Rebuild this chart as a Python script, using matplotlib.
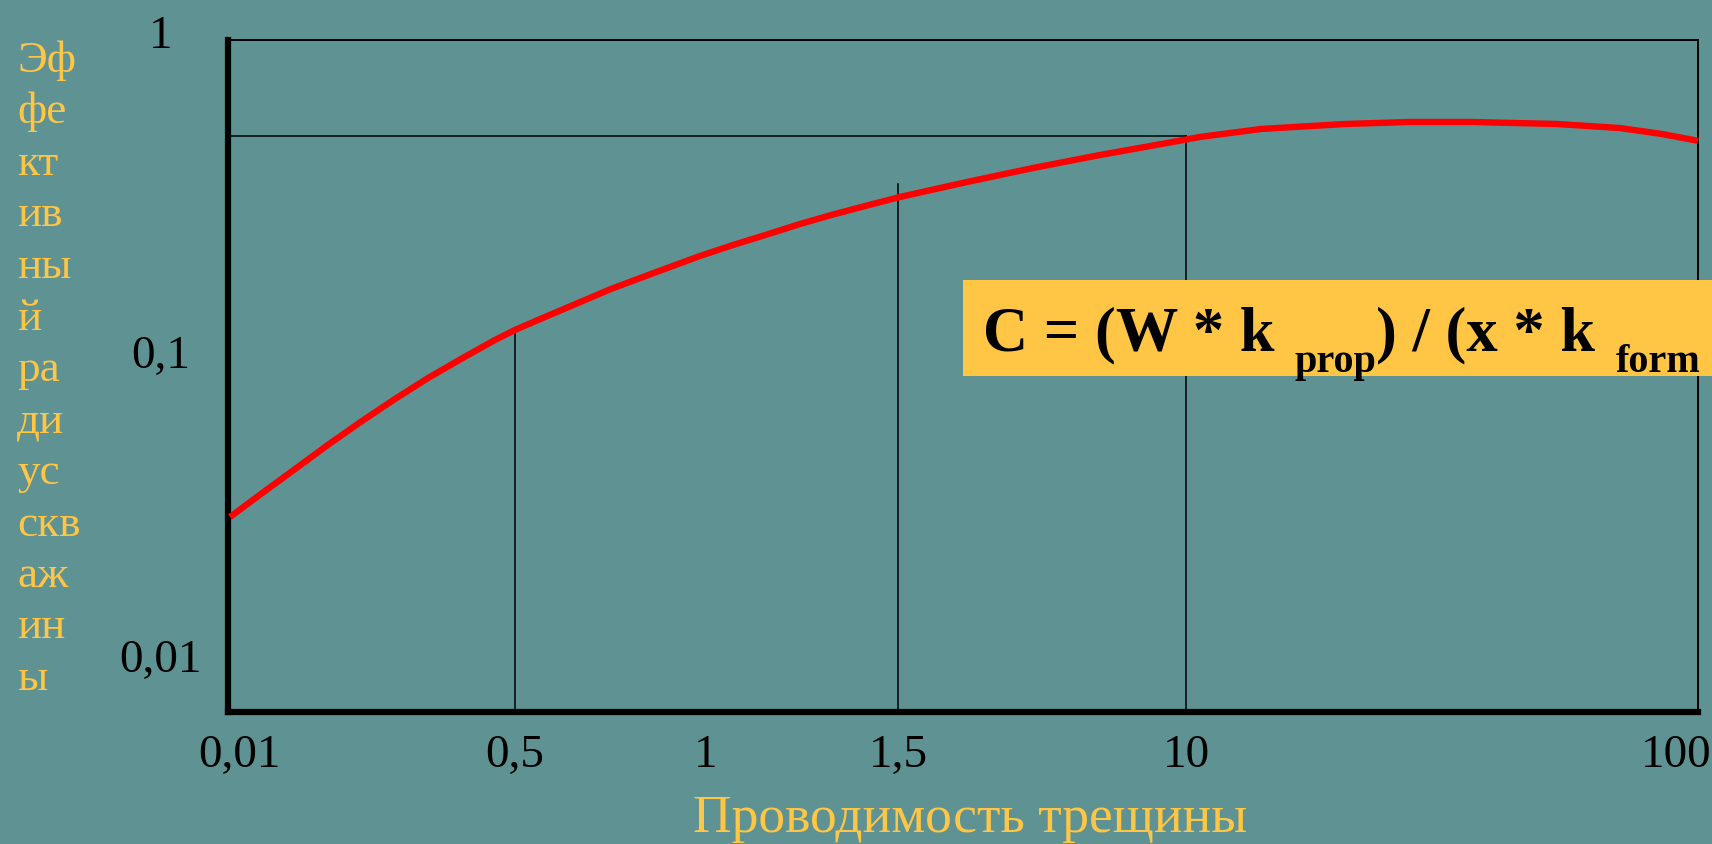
import matplotlib
matplotlib.use("Agg")
import matplotlib.pyplot as plt
import matplotlib.transforms as mtransforms

# ---- data (positions along the chart's non-standard axes, as fractions of the plot box) ----
curve_x = [0.0014, 0.0224, 0.0456, 0.0680, 0.0905, 0.1136, 0.1361, 0.1585, 0.1816, 0.1952,
           0.2156, 0.2381, 0.2605, 0.2905, 0.3211, 0.3435, 0.3667, 0.3891, 0.4116, 0.4347,
           0.4571, 0.5027, 0.5476, 0.5932, 0.6388, 0.6612, 0.7027, 0.7599, 0.8034, 0.8463,
           0.9041, 0.9469, 0.9755, 1.0000]
curve_y = [0.2902, 0.3244, 0.3615, 0.3975, 0.4320, 0.4658, 0.4970, 0.5253, 0.5536, 0.5685,
           0.5878, 0.6086, 0.6295, 0.6540, 0.6786, 0.6949, 0.7106, 0.7262, 0.7403, 0.7537,
           0.7664, 0.7887, 0.8095, 0.8289, 0.8467, 0.8557, 0.8676, 0.8750, 0.8780, 0.8780,
           0.8750, 0.8690, 0.8601, 0.8500]

x_tick_labels = ["0,01", "0,5", "1", "1,5", "10", "100"]
x_tick_pos = [0.0075, 0.195, 0.325, 0.456, 0.652, 0.985]

guide_x = [0.195, 0.456, 0.652]          # vertical guides at 0,5 / 1,5 / 10
guide_top = [0.571, 0.786, 0.857]
hline_y = 0.857

y_tick_labels = ["1", "0,1", "0,01"]
y_tick_pos = [0.990, 0.514, 0.061]        # baselines

y_label_lines = ["Эф", "фе", "кт", "ив", "ны", "й", "ра", "ди", "ус", "скв", "аж", "ин", "ы"]
x_label = "Проводимость трещины"

BG = "#5F9393"
GOLD = "#FFC646"
SERIF = ["Liberation Serif", "DejaVu Serif"]

W, H = 1712, 845
fig = plt.figure(figsize=(W / 100, H / 100), dpi=100, facecolor=BG)

# axes box in pixel coordinates of the reference
L, R, T, B = 228, 1698, 41, 713
ax = fig.add_axes([L / W, (H - B) / H, (R - L) / W, (B - T) / H])
ax.set_facecolor(BG)
ax.set_xlim(0, 1)
ax.set_ylim(0, 1)

for side in ["left", "bottom"]:
    ax.spines[side].set_linewidth(4.5)
    ax.spines[side].set_color("black")
for side in ["top", "right"]:
    ax.spines[side].set_linewidth(1.4)
    ax.spines[side].set_color("black")

ax.set_xticks([])
ax.set_yticks([])

# x tick labels (baseline at 767 px)
xt_trans = mtransforms.blended_transform_factory(ax.transData, fig.transFigure)
for lab, u in zip(x_tick_labels, x_tick_pos):
    ax.text(u, 1 - 767 / H, lab, transform=xt_trans, ha="center", va="baseline",
            family=SERIF, fontsize=34, color="black", clip_on=False)

# y tick labels
for lab, v in zip(y_tick_labels, y_tick_pos):
    ax.text(-0.046, v, lab, transform=ax.transAxes, ha="center", va="baseline",
            family=SERIF, fontsize=34, color="black", clip_on=False)

# guide lines
ax.plot([0, guide_x[-1]], [hline_y, hline_y], color="black", lw=1.1, zorder=2)
for gx, gt in zip(guide_x, guide_top):
    ax.plot([gx, gx], [0, gt], color="black", lw=1.1, zorder=2)

ax.plot(curve_x, curve_y, color="#FF0000", lw=4.6, zorder=3, clip_on=False,
        solid_capstyle="butt", solid_joinstyle="round")

# y label (stacked syllables)
for i, s in enumerate(y_label_lines):
    yb = 72 + i * 51.5
    fig.text(17 / W, 1 - yb / H, s, ha="left", va="baseline", family=SERIF,
             fontsize=32.5, color=GOLD)

# x label
fig.text(970 / W, 1 - 832 / H, x_label, ha="center", va="baseline", family=SERIF,
         fontsize=38.5, color=GOLD)

# formula box
box = plt.Rectangle((963 / W, 1 - 377 / H), (W - 963) / W, 96 / H,
                    transform=fig.transFigure, facecolor="#FFC646", edgecolor="none",
                    zorder=5)
fig.patches.append(box)

fig.canvas.draw()
renderer = fig.canvas.get_renderer()
pieces = [("C = (W * k", 45, 0, 0), ("prop", 29, -22, 20), (") / (x * k", 45, 0, 0),
          ("form", 29, -22, 20)]
x_px = 983
base_px = 350
for s, fs, dy, gap in pieces:
    x_px += gap
    t = fig.text(x_px / W, 1 - (base_px - dy) / H, s, ha="left", va="baseline",
                 family=SERIF, fontsize=fs, fontweight="bold", color="black", zorder=6)
    bb = t.get_window_extent(renderer)
    x_px = bb.x1

fig.savefig("out.png", dpi=100, facecolor=BG)
